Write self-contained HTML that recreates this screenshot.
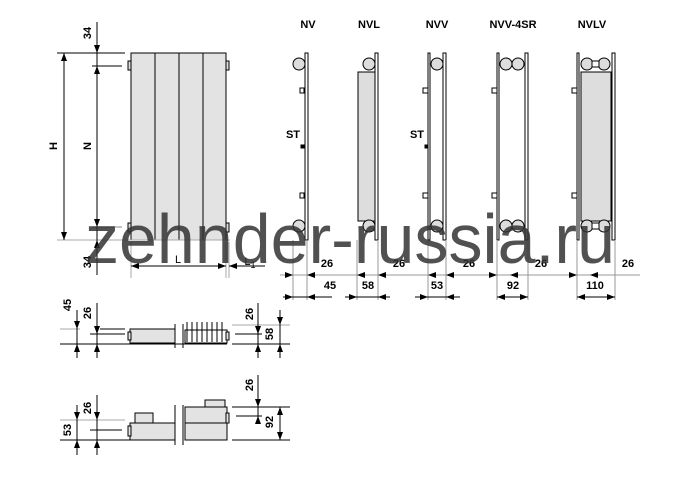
<!DOCTYPE html>
<html><head><meta charset="utf-8"><style>body{margin:0;background:#fff}svg{display:block}</style></head><body>
<svg width="693" height="477" viewBox="0 0 693 477" xmlns="http://www.w3.org/2000/svg" font-family="Liberation Sans, sans-serif">
<defs><marker id="a" markerWidth="8" markerHeight="6" refX="8" refY="3" orient="auto"><path d="M0,0L8,3L0,6z" fill="#000"/></marker></defs>
<g stroke="#000" stroke-width="1" fill="none">
<!-- main radiator -->
<rect x="131" y="53" width="95" height="187" fill="#e3e3e3"/>
<line x1="155" y1="53" x2="155" y2="240"/><line x1="179" y1="53" x2="179" y2="240"/><line x1="203" y1="53" x2="203" y2="240"/>
<rect x="128" y="61" width="3" height="9" fill="#ddd"/><rect x="128" y="223" width="3" height="9" fill="#ddd"/>
<rect x="226" y="61" width="3" height="9" fill="#ddd"/><rect x="226" y="223" width="3" height="9" fill="#ddd"/>
<line x1="57" y1="53" x2="125" y2="53"/><line x1="92" y1="66" x2="122" y2="66"/><line x1="92" y1="227" x2="122" y2="227" stroke="#888"/>
<line x1="57" y1="240" x2="230" y2="240" stroke="#aaa"/>
<line x1="64" y1="53" x2="64" y2="240"/><line x1="97" y1="22" x2="97" y2="275"/>
<line x1="131" y1="242" x2="131" y2="278" stroke="#aaa"/><line x1="226" y1="242" x2="226" y2="278" stroke="#aaa"/><line x1="229" y1="242" x2="229" y2="278" stroke="#aaa"/>
<line x1="131" y1="266" x2="226" y2="266"/><line x1="229" y1="266" x2="265" y2="266"/>
</g>
<g fill="#000">
<path d="M64,53l-3,8h6z M64,240l-3,-8h6z M97,53l-3,-8h6z M97,66l-3,8h6z M97,227l-3,-8h6z M97,240l-3,8h6z M131,266l8,-3v6z M226,266l-8,-3v6z M229,266l8,-3v6z"/>
</g>
<g font-size="11" font-weight="bold" text-anchor="middle">
<text transform="translate(91,33) rotate(-90)">34</text>
<text transform="translate(57,146) rotate(-90)">H</text>
<text transform="translate(91,146) rotate(-90)">N</text>
<text transform="translate(91,262) rotate(-90)">34</text>
<text x="178" y="263" font-weight="normal">L</text>
<text x="250" y="265" font-weight="normal">L<tspan font-size="9" dy="3">1</tspan></text>
<text x="308" y="28">NV</text><text x="369" y="28">NVL</text><text x="437" y="28">NVV</text><text x="513" y="28">NVV-4SR</text><text x="592" y="28">NVLV</text>
<text x="293" y="138">ST</text><text x="417" y="138">ST</text>
<text x="327" y="267">26</text><text x="399" y="267">26</text><text x="469" y="267">26</text><text x="541" y="267">26</text><text x="628" y="267">26</text>
<text x="330" y="289">45</text><text x="368" y="289">58</text><text x="437" y="289">53</text><text x="513" y="289">92</text><text x="595" y="289">110</text>
<text transform="translate(71,305) rotate(-90)">45</text><text transform="translate(91,313) rotate(-90)">26</text>
<text transform="translate(253,314) rotate(-90)">26</text><text transform="translate(273,334) rotate(-90)">58</text>
<text transform="translate(71,430) rotate(-90)">53</text><text transform="translate(91,408) rotate(-90)">26</text>
<text transform="translate(253,385) rotate(-90)">26</text><text transform="translate(273,422) rotate(-90)">92</text>
</g>
<g stroke="#000" fill="#ddd">
<!-- NV -->
<rect x="305" y="53" width="3" height="187" fill="#fff"/><circle cx="299" cy="64" r="6"/><circle cx="299" cy="226" r="6"/>
<rect x="300" y="88" width="4" height="5" fill="#fff"/><rect x="300" y="193" width="4" height="5" fill="#fff"/><rect x="301" y="145" width="3" height="3" fill="#000"/>
<!-- NVL -->
<rect x="358" y="72" width="17" height="149"/><rect x="375" y="53" width="3" height="187" fill="#fff"/><circle cx="369" cy="64" r="6"/><circle cx="369" cy="226" r="6"/>
<!-- NVV -->
<rect x="428" y="53" width="2" height="187" fill="#fff"/><rect x="443" y="53" width="3" height="187" fill="#fff"/><circle cx="437" cy="64" r="6"/><circle cx="437" cy="226" r="6"/>
<rect x="423" y="88" width="5" height="5" fill="#fff"/><rect x="423" y="193" width="5" height="5" fill="#fff"/><rect x="425" y="145" width="3" height="3" fill="#000"/>
<!-- NVV-4SR -->
<rect x="497" y="53" width="2" height="187" fill="#fff"/><rect x="525" y="53" width="3" height="187" fill="#fff"/>
<circle cx="506" cy="64" r="6"/><circle cx="518" cy="64" r="6"/><circle cx="506" cy="226" r="6"/><circle cx="518" cy="226" r="6"/>
<rect x="492" y="88" width="5" height="5" fill="#fff"/><rect x="492" y="193" width="5" height="5" fill="#fff"/>
<!-- NVLV -->
<rect x="577" y="53" width="2" height="187" fill="#fff"/><rect x="612" y="53" width="3" height="187" fill="#fff"/>
<rect x="581" y="72" width="30" height="149"/>
<circle cx="587" cy="64" r="6"/><circle cx="604" cy="64" r="6"/><circle cx="587" cy="226" r="6"/><circle cx="604" cy="226" r="6"/>
<rect x="592" y="61" width="7" height="6" fill="#fff"/><rect x="592" y="223" width="7" height="6" fill="#fff"/>
<rect x="572" y="88" width="5" height="5" fill="#fff"/><rect x="572" y="193" width="5" height="5" fill="#fff"/>
</g>
<g stroke="#000" fill="none">
<g stroke="#999"><line x1="293" y1="240" x2="293" y2="300"/><line x1="307" y1="240" x2="307" y2="300"/><line x1="357" y1="240" x2="357" y2="300"/><line x1="378" y1="240" x2="378" y2="300"/><line x1="428" y1="240" x2="428" y2="300"/><line x1="446" y1="240" x2="446" y2="300"/><line x1="497" y1="240" x2="497" y2="300"/><line x1="528" y1="240" x2="528" y2="300"/><line x1="577" y1="240" x2="577" y2="300"/><line x1="615" y1="240" x2="615" y2="300"/><line x1="280" y1="275" x2="640" y2="275"/></g>
<line x1="283" y1="297" x2="332" y2="297"/><line x1="345" y1="297" x2="390" y2="297"/><line x1="415" y1="297" x2="460" y2="297"/><line x1="497" y1="297" x2="528" y2="297"/><line x1="577" y1="297" x2="615" y2="297"/>
</g>
<g fill="#000">
<path d="M293,275l-8,-3v6z M307,275l8,-3v6z M357,275l8,-3v6z M378,275l8,-3v6z M428,275l8,-3v6z M446,275l8,-3v6z M497,275l-8,-3v6z M510,275l8,-3v6z M577,275l-8,-3v6z M590,275l8,-3v6z
M293,297l-8,-3v6z M307,297l8,-3v6z M357,297l-8,-3v6z M378,297l8,-3v6z M428,297l-8,-3v6z M446,297l8,-3v6z M497,297l8,-3v6z M528,297l-8,-3v6z M577,297l8,-3v6z M615,297l-8,-3v6z"/>
</g>
<!-- top views -->
<g stroke="#000" fill="#e3e3e3">
<rect x="130" y="329" width="45" height="14"/><rect x="128" y="332" width="3" height="8"/>
<line x1="183" y1="324" x2="183" y2="348" fill="none"/><line x1="175" y1="324" x2="175" y2="348" fill="none"/>
<rect x="185" y="330" width="42" height="13" fill="#fff"/>
<path d="M187,322v20M192,322v20M197,322v20M202,322v20M207,322v20M212,322v20M217,322v20M222,322v20" fill="none"/>
<rect x="226" y="332" width="3" height="8"/>
<line x1="130" y1="344" x2="227" y2="344" fill="none"/>
<rect x="130" y="423" width="45" height="17"/><rect x="135" y="413" width="18" height="10"/><rect x="128" y="426" width="3" height="10"/>
<line x1="175" y1="405" x2="175" y2="445" fill="none"/><line x1="183" y1="405" x2="183" y2="445" fill="none"/>
<rect x="185" y="407" width="42" height="33"/><line x1="185" y1="423" x2="227" y2="423"/><rect x="205" y="400" width="20" height="7"/><rect x="226" y="413" width="3" height="10"/>
</g>
<g stroke="#000" fill="none">
<line x1="60" y1="344" x2="130" y2="344"/><line x1="60" y1="329" x2="80" y2="329" stroke="#aaa"/><line x1="90" y1="334" x2="125" y2="334"/><line x1="100" y1="329" x2="125" y2="329"/>
<line x1="77" y1="310" x2="77" y2="358"/><line x1="97" y1="303" x2="97" y2="358"/>
<line x1="232" y1="344" x2="290" y2="344"/><line x1="232" y1="325" x2="290" y2="325" stroke="#aaa"/><line x1="235" y1="334" x2="262" y2="334"/>
<line x1="258" y1="303" x2="258" y2="358"/><line x1="280" y1="310" x2="280" y2="358"/>
<line x1="60" y1="440" x2="130" y2="440"/><line x1="60" y1="420" x2="125" y2="420" stroke="#aaa"/><line x1="90" y1="430" x2="122" y2="430"/>
<line x1="77" y1="405" x2="77" y2="455"/><line x1="97" y1="395" x2="97" y2="455"/>
<line x1="232" y1="440" x2="290" y2="440"/><line x1="232" y1="407" x2="290" y2="407"/><line x1="236" y1="416" x2="262" y2="416"/>
<line x1="258" y1="375" x2="258" y2="420"/><line x1="280" y1="407" x2="280" y2="440"/>
</g>
<g fill="#000">
<path d="M77,329l-3,-8h6z M77,344l-3,8h6z M97,334l-3,-8h6z M97,344l-3,8h6z M258,334l-3,-8h6z M258,344l-3,8h6z M280,325l-3,-8h6z M280,344l-3,8h6z
M77,420l-3,-8h6z M77,440l-3,8h6z M97,420l-3,-8h6z M97,440l-3,8h6z M258,407l-3,-8h6z M258,416l-3,8h6z M280,407l-3,8h6z M280,440l-3,-8h6z"/>
</g>
<text x="85" y="263" font-size="70" fill="#333" fill-opacity="0.85" textLength="530" lengthAdjust="spacingAndGlyphs">zehnder-russia.ru</text>
</svg>
</body></html>
